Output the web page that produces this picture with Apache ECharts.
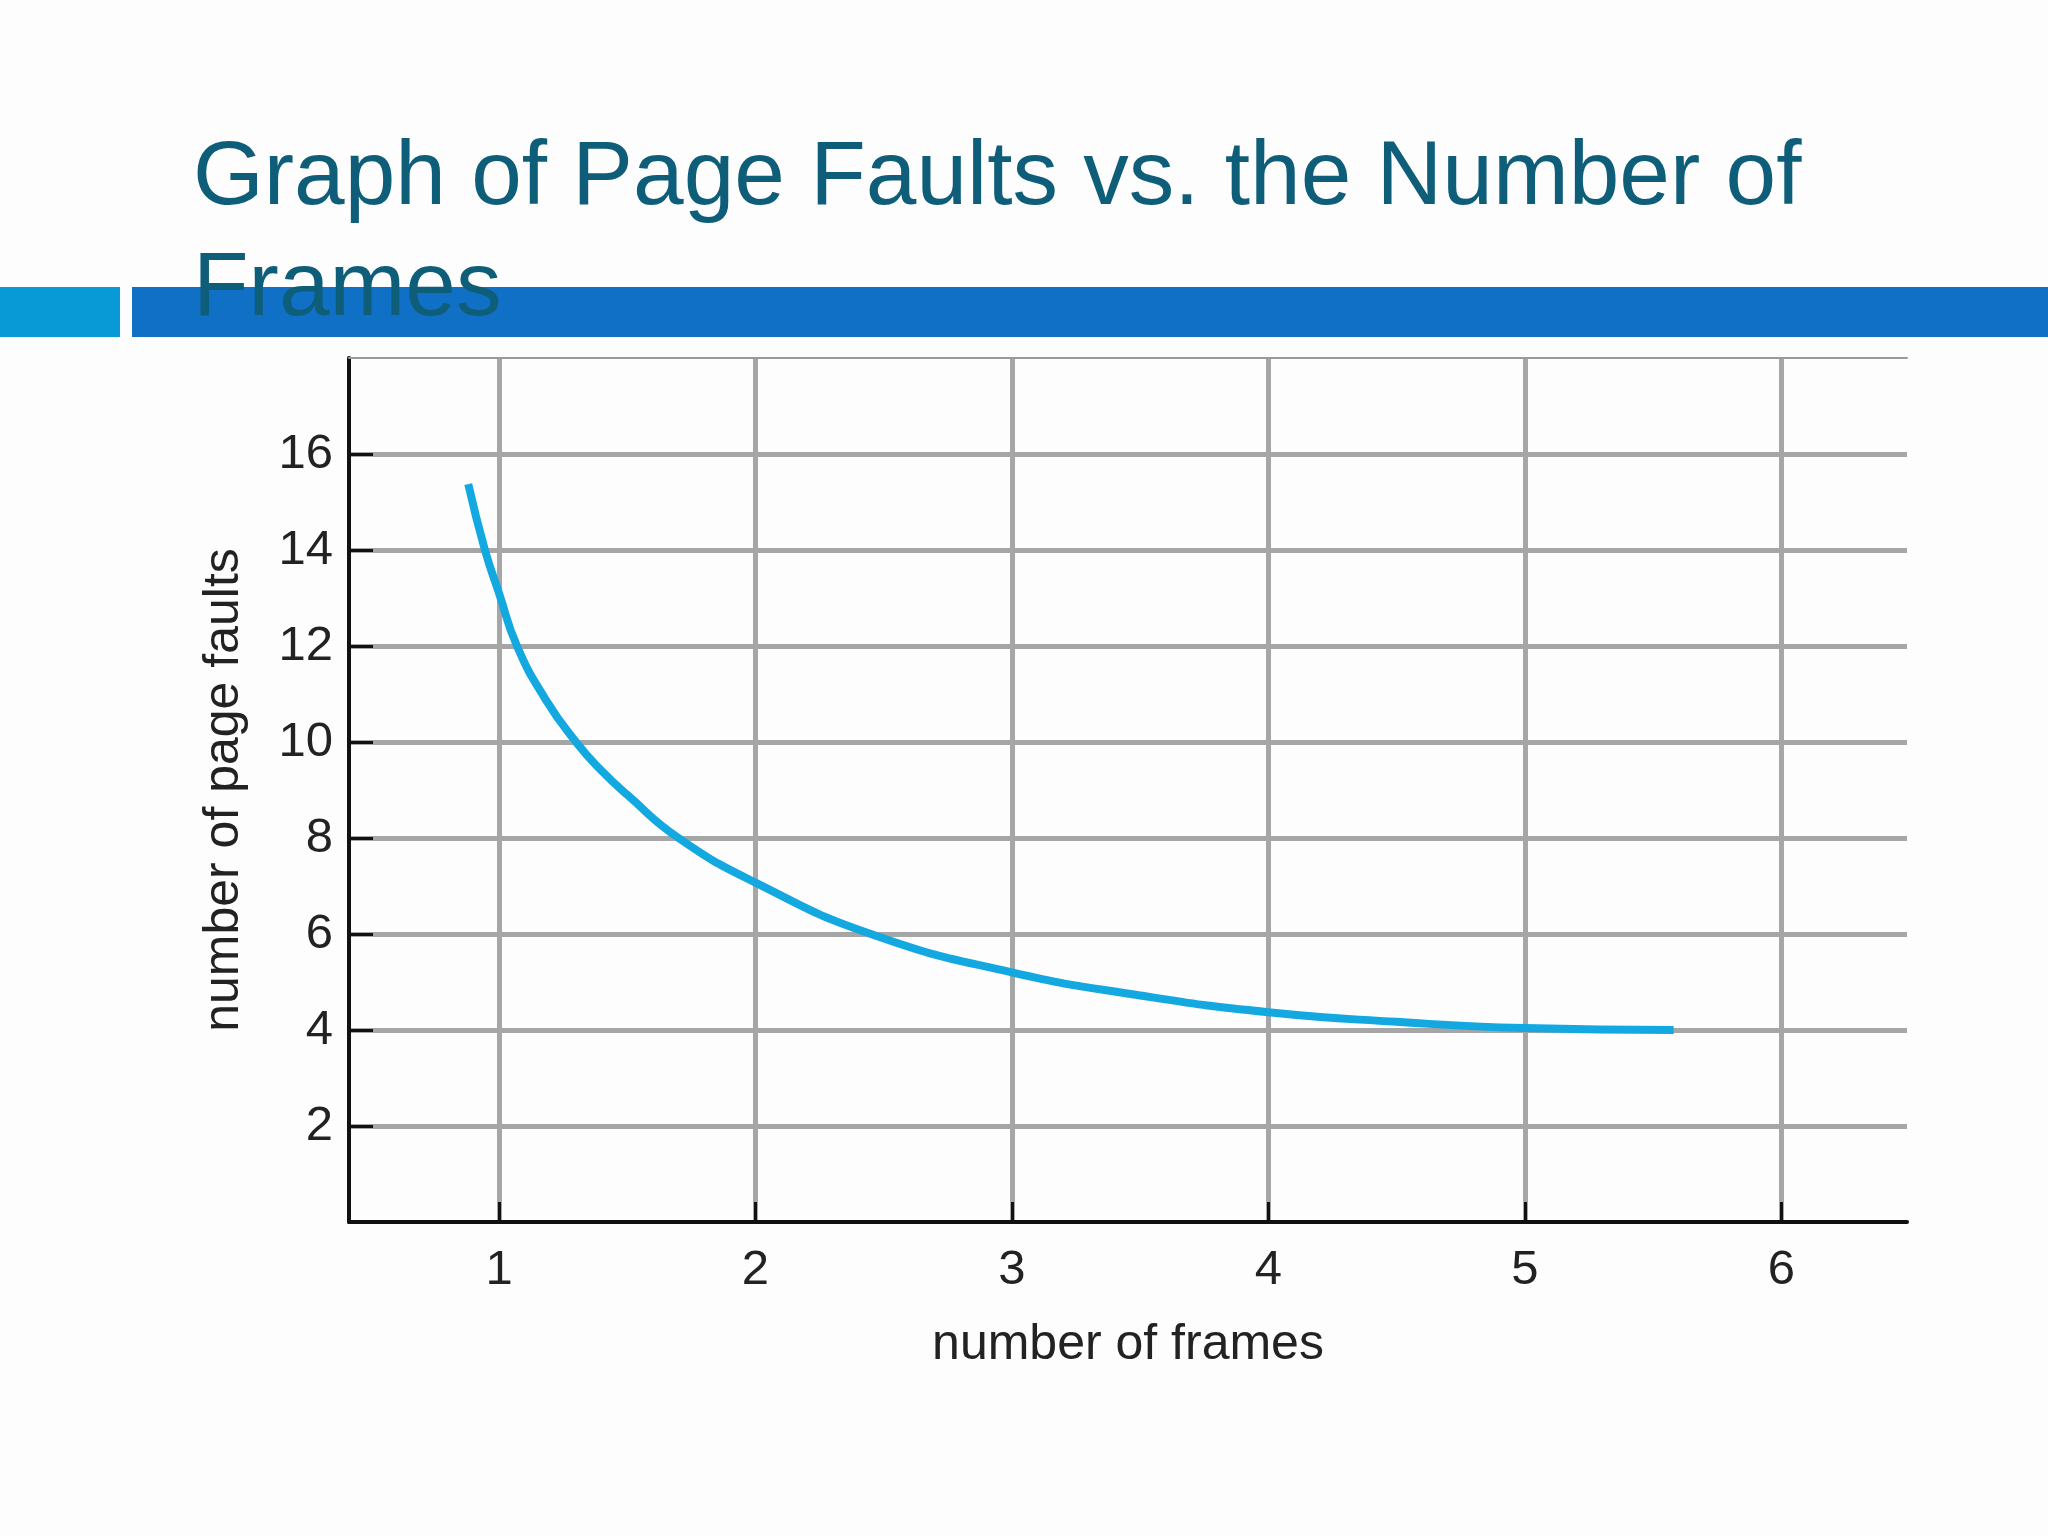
<!DOCTYPE html>
<html>
<head>
<meta charset="utf-8">
<title>Graph of Page Faults vs. the Number of Frames</title>
<script src="https://cdn.jsdelivr.net/npm/echarts@6/dist/echarts.min.js"></script>
<style>
  html, body { margin: 0; padding: 0; background: #fdfdfe; }
  #main { width: 2048px; height: 1536px; }
</style>
</head>
<body>
<div id="main"></div>
<script>
// values
var frames = [0.88, 0.945, 1.0, 1.07, 1.18, 1.3, 1.4, 1.5, 1.7, 2.0, 2.45, 3.0, 3.5, 4.0, 4.5, 5.0, 5.58]
var faults = [15.37, 14.0, 13.1, 12.0, 10.9, 10.0, 9.4, 8.9, 8.0, 7.07, 6.0, 5.2, 4.72, 4.37, 4.17, 4.04, 4.0]
var xTicks = [1, 2, 3, 4, 5, 6]
var yTicks = [2, 4, 6, 8, 10, 12, 14, 16]

var curve = frames.map(function (f, i) { return [f, faults[i]] })

var font = 'Liberation Sans, Arial, Helvetica, sans-serif'
var myChart = echarts.init(document.getElementById('main'))

var option = {
  backgroundColor: '#fdfdfe',
  animation: false,
  title: {
    text: 'Graph of Page Faults vs. the Number of\nFrames',
    left: 193,
    top: 123,
    padding: 0,
    z: 10,
    textStyle: {
      color: '#0e5e7a',
      fontSize: 91,
      fontWeight: 'normal',
      fontFamily: font,
      lineHeight: 111
    }
  },
  graphic: [
    { type: 'rect', z: 0, shape: { x: 0, y: 287, width: 120, height: 50 }, style: { fill: '#079ad7' } },
    { type: 'rect', z: 0, shape: { x: 132, y: 287, width: 1916, height: 50 }, style: { fill: '#1070c5' } }
  ],
  grid: {
    left: 349,
    top: 358,
    right: 141,
    bottom: 314
  },
  xAxis: [
    {
      type: 'value',
      min: 0.415,
      max: 6.49,
      name: 'number of frames',
      nameLocation: 'middle',
      nameGap: 98,
      nameTextStyle: { color: '#222', fontSize: 50, fontFamily: font },
      axisLine: { show: true, onZero: false, lineStyle: { color: '#111', width: 4 } },
      axisTick: { show: true, inside: true, length: 20, customValues: xTicks, lineStyle: { color: '#111', width: 3 } },
      axisLabel: { customValues: xTicks, margin: 24, color: '#222', fontSize: 49, fontFamily: font },
      splitLine: { show: true, lineStyle: { color: '#a6a6a6', width: 5 } }
    },
    {
      type: 'value',
      position: 'top',
      min: 0.415,
      max: 6.49,
      axisLine: { show: true, onZero: false, lineStyle: { color: '#9a9a9a', width: 2 } },
      axisTick: { show: false },
      axisLabel: { show: false },
      splitLine: { show: false }
    }
  ],
  yAxis: {
    type: 'value',
    min: 0,
    max: 18,
    interval: 2,
    name: 'number of page faults',
    nameLocation: 'middle',
    nameGap: 100,
    nameTextStyle: { color: '#222', fontSize: 50, fontFamily: font },
    axisLine: { show: true, onZero: false, lineStyle: { color: '#111', width: 4 } },
    axisTick: { show: true, inside: true, length: 24, customValues: yTicks, lineStyle: { color: '#111', width: 3 } },
    axisLabel: { customValues: yTicks, margin: 16, color: '#222', fontSize: 49, fontFamily: font },
    splitLine: { show: true, lineStyle: { color: '#a6a6a6', width: 5 } }
  },
  series: [{
    type: 'line',
    data: curve,
    smooth: 0.5,
    showSymbol: false,
    z: 5,
    lineStyle: { color: '#14a8e1', width: 8, cap: 'butt' }
  }]
}

myChart.setOption(option)
</script>
</body>
</html>
